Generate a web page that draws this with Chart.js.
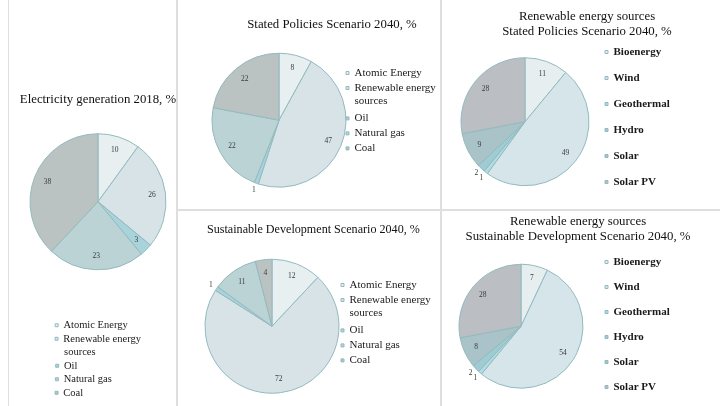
<!DOCTYPE html>
<html lang="en">
<head>
  <meta charset="UTF-8" />
  <title>Electricity generation scenarios</title>
  <script src="https://cdn.jsdelivr.net/npm/chart.js"></script>
  <style>
    html, body { margin: 0; padding: 0; background: #fff; width: 720px; height: 406px; overflow: hidden; position: relative; }
    canvas { position: absolute; }
    .rule { position: absolute; background: #dedede; }
  </style>
</head>
<body>
  <div class="rule" style="left:8px;top:0;width:1px;height:406px"></div>
  <div class="rule" style="left:176px;top:0;width:2px;height:406px"></div>
  <div class="rule" style="left:440px;top:0;width:2px;height:406px"></div>
  <div class="rule" style="left:176px;top:209px;width:544px;height:2px"></div>

  <canvas id="genChart" width="196" height="328" style="left:0;top:80px"></canvas>
  <canvas id="stepsChart" width="268" height="198" style="left:180px;top:0"></canvas>
  <canvas id="renewStepsChart" width="274" height="204" style="left:440px;top:0"></canvas>
  <canvas id="sdsChart" width="258" height="195" style="left:180px;top:210px"></canvas>
  <canvas id="renewSdsChart" width="265" height="198" style="left:440px;top:210px"></canvas>

  <script>
    // categories
    const sourceLabels = ['Atomic Energy', ['Renewable energy', 'sources'], 'Oil', 'Natural gas', 'Coal'];
    const renewableLabels = ['Bioenergy', 'Wind', 'Geothermal', 'Hydro', 'Solar', 'Solar PV'];

    // shares, %
    const generation2018 = [10, 26, 3, 23, 38];
    const statedPolicies2040 = [8, 47, 1, 22, 22];
    const sustainable2040 = [12, 72, 1, 11, 4];
    const renewStated2040 = [11, 49, 1, 2, 9, 28];
    const renewSustainable2040 = [7, 54, 1, 2, 8, 28];

    const sourceColors = ['#e8eff0', '#d7e3e6', '#a9d3da', '#bcd3d6', '#bbc2c2'];
    const renewableColors = ['#e6eef0', '#d6e5ea', '#b2dce4', '#9fcbd3', '#a9c3c8', '#bbbec2'];

    const FAMILY = "'Liberation Serif', 'DejaVu Serif', serif";
    Chart.defaults.font.family = FAMILY;
    Chart.defaults.color = '#1a1a1a';

    const NBSP = '\u00a0';
    const CLEAR = 'rgba(0,0,0,0)';

    // value labels on the slices
    const sliceValues = {
      id: 'sliceValues',
      afterDatasetsDraw(chart) {
        const ctx = chart.ctx;
        const values = chart.data.datasets[0].data;
        ctx.save();
        ctx.font = '7.5px ' + FAMILY;
        ctx.fillStyle = '#3a3a3a';
        ctx.textAlign = 'center';
        ctx.textBaseline = 'middle';
        chart.getDatasetMeta(0).data.forEach((arc, i) => {
          const p = arc.getProps(['x', 'y', 'startAngle', 'endAngle', 'outerRadius'], true);
          const mid = (p.startAngle + p.endAngle) / 2;
          const r = values[i] < 3 ? p.outerRadius + 7 : p.outerRadius * 0.8;
          ctx.fillText(String(values[i]), p.x + Math.cos(mid) * r, p.y + Math.sin(mid) * r);
        });
        ctx.restore();
      }
    };

    function pieChart(id, opts) {
      const font = { size: opts.legendSize, weight: opts.legendWeight, lineHeight: 1.2 };
      const legendLabels = {
        usePointStyle: true,
        pointStyle: 'rect',
        boxWidth: 3,
        boxHeight: 3,
        padding: opts.itemPad,
        font: font,
        generateLabels(chart) {
          const base = Chart.overrides.pie.plugins.legend.labels.generateLabels(chart);
          if (!opts.stacked) {
            base.forEach(it => {
              it.text = Array.isArray(it.text) ? [it.text[0] + NBSP.repeat(40)].concat(it.text.slice(1)) : it.text + NBSP.repeat(40);
            });
            return base;
          }
          // one row per text line, all rows padded to the same width
          const items = [];
          base.forEach(it => {
            const lines = Array.isArray(it.text) ? it.text : [it.text];
            lines.forEach((line, k) => {
              items.push(k === 0 ? Object.assign({}, it, { text: line })
                : Object.assign({}, it, { text: line, fillStyle: CLEAR, strokeStyle: CLEAR, lineWidth: 0 }));
            });
          });
          const ctx = chart.ctx;
          ctx.save();
          ctx.font = (opts.legendWeight ? opts.legendWeight + ' ' : '') + opts.legendSize + 'px ' + FAMILY;
          const target = Math.max(...items.map(it => ctx.measureText(it.text).width));
          items.forEach(it => {
            while (ctx.measureText(it.text + NBSP).width <= target + 1) it.text += NBSP;
          });
          ctx.restore();
          return items;
        }
      };
      return new Chart(document.getElementById(id), {
        type: 'pie',
        data: {
          labels: opts.labels,
          datasets: [{
            data: opts.values,
            backgroundColor: opts.colors,
            borderColor: '#92babf',
            borderWidth: 1,
            radius: opts.radius
          }]
        },
        options: {
          responsive: false,
          animation: false,
          layout: { padding: opts.layoutPad },
          plugins: {
            tooltip: { enabled: false },
            title: {
              display: true,
              text: opts.title,
              color: '#111',
              font: { size: 12.8, weight: 'normal', lineHeight: 1.17 },
              padding: opts.titlePad
            },
            legend: {
              position: opts.legendPos,
              align: opts.stacked ? 'center' : 'start',
              fullSize: !opts.stacked,
              maxWidth: opts.legendWidth,
              title: { display: true, text: ' ', font: { size: 10, lineHeight: 1.2 }, padding: { top: opts.legendGap, bottom: 0 } },
              labels: legendLabels
            }
          }
        },
        plugins: [sliceValues]
      });
    }

    pieChart('genChart', {
      labels: sourceLabels, values: generation2018, colors: sourceColors,
      title: 'Electricity generation 2018, %', titlePad: { top: 12, bottom: 13 },
      radius: 68, layoutPad: { left: 15, right: 15, top: 0, bottom: 0 },
      legendPos: 'bottom', legendWidth: undefined, itemPad: 3, legendGap: 21.5,
      legendSize: 10.5, legendWeight: 'normal', stacked: true
    });

    pieChart('stepsChart', {
      labels: sourceLabels, values: statedPolicies2040, colors: sourceColors,
      title: 'Stated Policies Scenario 2040, %', titlePad: { top: 17.5, bottom: 10 },
      radius: 67, layoutPad: { left: 36, right: 0, top: 0, bottom: 0 },
      legendPos: 'right', legendWidth: 106, itemPad: 4, legendGap: 51.5,
      legendSize: 11, legendWeight: 'normal'
    });

    pieChart('renewStepsChart', {
      labels: renewableLabels, values: renewStated2040, colors: renewableColors,
      title: ['Renewable energy sources', 'Stated Policies Scenario 2040, %'], titlePad: { top: 9.5, bottom: 0 },
      radius: 64, layoutPad: { left: 20, right: 0, top: 0, bottom: 0 },
      legendPos: 'right', legendWidth: 124, itemPad: 15, legendGap: 19.5,
      legendSize: 11, legendWeight: 'bold'
    });

    pieChart('sdsChart', {
      labels: sourceLabels, values: sustainable2040, colors: sourceColors,
      title: 'Sustainable Development Scenario 2040, %' + NBSP.repeat(6), titlePad: { top: 12.5, bottom: 10 },
      radius: 67, layoutPad: { left: 27, right: 0, top: 0, bottom: 0 },
      legendPos: 'right', legendWidth: 101, itemPad: 4, legendGap: 53.5,
      legendSize: 11, legendWeight: 'normal'
    });

    pieChart('renewSdsChart', {
      labels: renewableLabels, values: renewSustainable2040, colors: renewableColors,
      title: ['Renewable energy sources', 'Sustainable Development Scenario 2040, %'], titlePad: { top: 4.5, bottom: 0 },
      radius: 62, layoutPad: { left: 11, right: 0, top: 0, bottom: 0 },
      legendPos: 'right', legendWidth: 114, itemPad: 14, legendGap: 20.5,
      legendSize: 11, legendWeight: 'bold'
    });
  </script>
</body>
</html>
